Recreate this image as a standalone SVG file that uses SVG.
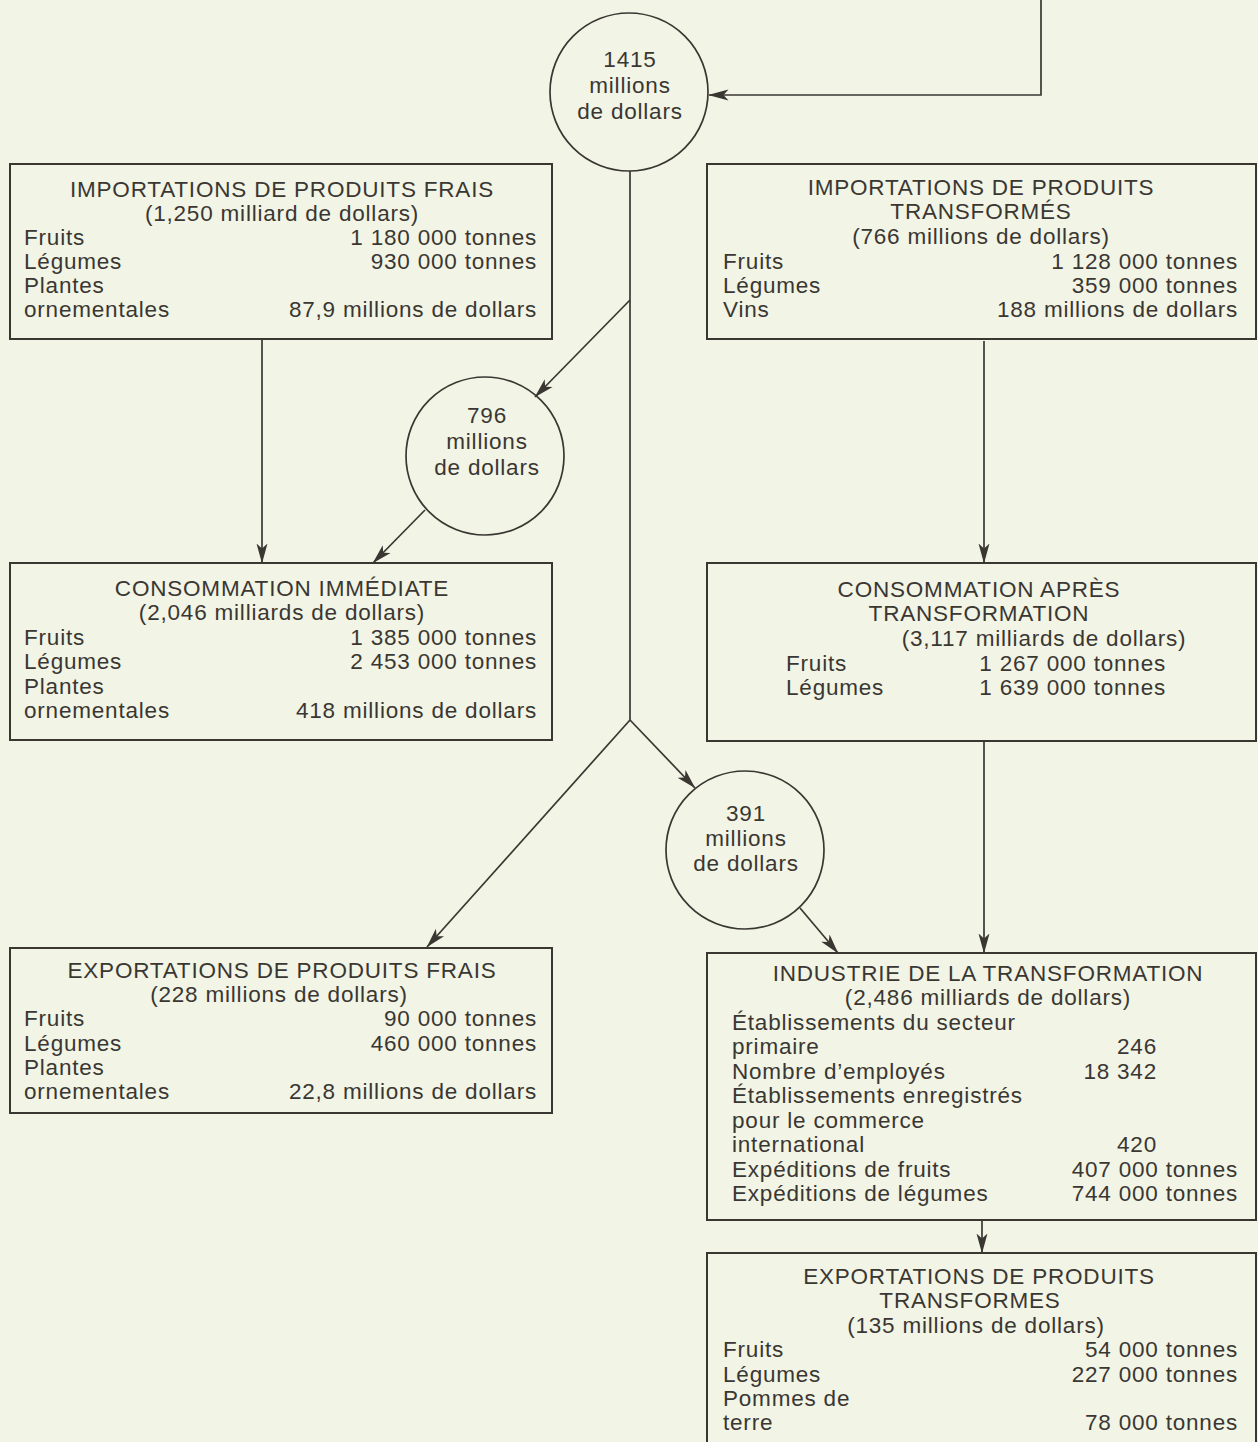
<svg xmlns="http://www.w3.org/2000/svg" width="1258" height="1442" viewBox="0 0 1258 1442">
<defs>
<style>
.bg{fill:#f2f4e5}
.box{fill:none;stroke:#3a3733;stroke-width:2}
.circ{fill:none;stroke:#3a3733;stroke-width:1.7}
.ln{fill:none;stroke:#3a3733;stroke-width:1.7}
.t{font-family:"Liberation Sans",Arial,Helvetica,sans-serif;font-size:22.5px;fill:#3a3733;letter-spacing:0.8px}
.m{text-anchor:middle}
.e{text-anchor:end}
</style>
<marker id="ah" markerWidth="20" markerHeight="14" refX="19.5" refY="7" orient="auto" markerUnits="userSpaceOnUse">
<path d="M0,1.5 L20,7 L0,12.5 L5,7 Z" fill="#3a3733"/>
</marker>
</defs>
<rect class="bg" x="0" y="0" width="1258" height="1442"/>

<g id="connectors">
<polyline class="ln" points="1041,0 1041,95 709,95" marker-end="url(#ah)"/>
<line class="ln" x1="630" y1="171" x2="630" y2="720"/>
<line class="ln" x1="630" y1="300" x2="535" y2="397" marker-end="url(#ah)"/>
<line class="ln" x1="425" y1="510" x2="373" y2="563" marker-end="url(#ah)"/>
<line class="ln" x1="262" y1="340" x2="262" y2="563" marker-end="url(#ah)"/>
<line class="ln" x1="630" y1="720" x2="427" y2="947" marker-end="url(#ah)"/>
<line class="ln" x1="630" y1="720" x2="695" y2="788" marker-end="url(#ah)"/>
<line class="ln" x1="800" y1="908" x2="838" y2="953" marker-end="url(#ah)"/>
<line class="ln" x1="984" y1="341" x2="984" y2="563" marker-end="url(#ah)"/>
<line class="ln" x1="984" y1="742" x2="984" y2="953" marker-end="url(#ah)"/>
<line class="ln" x1="982" y1="1221" x2="982" y2="1253" marker-end="url(#ah)"/>
</g>

<g id="c1415">
<circle class="circ" cx="629" cy="92" r="79"/>
<text class="t m" x="630" y="67">1415</text>
<text class="t m" x="630" y="93">millions</text>
<text class="t m" x="630" y="119">de dollars</text>
</g>

<g id="c796">
<circle class="circ" cx="485" cy="456" r="79"/>
<text class="t m" x="487" y="423">796</text>
<text class="t m" x="487" y="449">millions</text>
<text class="t m" x="487" y="475">de dollars</text>
</g>

<g id="c391">
<circle class="circ" cx="745" cy="850" r="79"/>
<text class="t m" x="746" y="821">391</text>
<text class="t m" x="746" y="846">millions</text>
<text class="t m" x="746" y="871">de dollars</text>
</g>

<g id="imp-frais">
<rect class="box" x="10" y="164" width="542" height="175"/>
<text class="t m" x="282" y="197">IMPORTATIONS DE PRODUITS FRAIS</text>
<text class="t m" x="282" y="221">(1,250 milliard de dollars)</text>
<text class="t" x="24" y="245">Fruits</text>
<text class="t e" x="537" y="245">1 180 000 tonnes</text>
<text class="t" x="24" y="269">Légumes</text>
<text class="t e" x="537" y="269">930 000 tonnes</text>
<text class="t" x="24" y="293">Plantes</text>
<text class="t" x="24" y="317">ornementales</text>
<text class="t e" x="537" y="317">87,9 millions de dollars</text>
</g>

<g id="imp-transf">
<rect class="box" x="707" y="164" width="549" height="175"/>
<text class="t m" x="981" y="195">IMPORTATIONS DE PRODUITS</text>
<text class="t m" x="981" y="219">TRANSFORMÉS</text>
<text class="t m" x="981" y="244">(766 millions de dollars)</text>
<text class="t" x="723" y="269">Fruits</text>
<text class="t e" x="1238" y="269">1 128 000 tonnes</text>
<text class="t" x="723" y="293">Légumes</text>
<text class="t e" x="1238" y="293">359 000 tonnes</text>
<text class="t" x="723" y="317">Vins</text>
<text class="t e" x="1238" y="317">188 millions de dollars</text>
</g>

<g id="conso-imm">
<rect class="box" x="10" y="563" width="542" height="177"/>
<text class="t m" x="282" y="596">CONSOMMATION IMMÉDIATE</text>
<text class="t m" x="282" y="620">(2,046 milliards de dollars)</text>
<text class="t" x="24" y="645">Fruits</text>
<text class="t e" x="537" y="645">1 385 000 tonnes</text>
<text class="t" x="24" y="669">Légumes</text>
<text class="t e" x="537" y="669">2 453 000 tonnes</text>
<text class="t" x="24" y="694">Plantes</text>
<text class="t" x="24" y="718">ornementales</text>
<text class="t e" x="537" y="718">418 millions de dollars</text>
</g>

<g id="conso-transf">
<rect class="box" x="707" y="563" width="549" height="178"/>
<text class="t m" x="979" y="597">CONSOMMATION APRÈS</text>
<text class="t m" x="979" y="621">TRANSFORMATION</text>
<text class="t m" x="1044" y="646">(3,117 milliards de dollars)</text>
<text class="t" x="786" y="671">Fruits</text>
<text class="t e" x="1166" y="671">1 267 000 tonnes</text>
<text class="t" x="786" y="695">Légumes</text>
<text class="t e" x="1166" y="695">1 639 000 tonnes</text>
</g>

<g id="exp-frais">
<rect class="box" x="10" y="948" width="542" height="165"/>
<text class="t m" x="282" y="978">EXPORTATIONS DE PRODUITS FRAIS</text>
<text class="t m" x="279" y="1002">(228 millions de dollars)</text>
<text class="t" x="24" y="1026">Fruits</text>
<text class="t e" x="537" y="1026">90 000 tonnes</text>
<text class="t" x="24" y="1051">Légumes</text>
<text class="t e" x="537" y="1051">460 000 tonnes</text>
<text class="t" x="24" y="1075">Plantes</text>
<text class="t" x="24" y="1099">ornementales</text>
<text class="t e" x="537" y="1099">22,8 millions de dollars</text>
</g>

<g id="industrie">
<rect class="box" x="707" y="953" width="549" height="267"/>
<text class="t m" x="988" y="981">INDUSTRIE DE LA TRANSFORMATION</text>
<text class="t m" x="988" y="1005">(2,486 milliards de dollars)</text>
<text class="t" x="732" y="1030">Établissements du secteur</text>
<text class="t" x="732" y="1054">primaire</text>
<text class="t e" x="1157" y="1054">246</text>
<text class="t" x="732" y="1079">Nombre d’employés</text>
<text class="t e" x="1157" y="1079">18 342</text>
<text class="t" x="732" y="1103">Établissements enregistrés</text>
<text class="t" x="732" y="1128">pour le commerce</text>
<text class="t" x="732" y="1152">international</text>
<text class="t e" x="1157" y="1152">420</text>
<text class="t" x="732" y="1177">Expéditions de fruits</text>
<text class="t e" x="1238" y="1177">407 000 tonnes</text>
<text class="t" x="732" y="1201">Expéditions de légumes</text>
<text class="t e" x="1238" y="1201">744 000 tonnes</text>
</g>

<g id="exp-transf">
<rect class="box" x="707" y="1253" width="549" height="200"/>
<text class="t m" x="979" y="1284">EXPORTATIONS DE PRODUITS</text>
<text class="t m" x="970" y="1308">TRANSFORMES</text>
<text class="t m" x="976" y="1333">(135 millions de dollars)</text>
<text class="t" x="723" y="1357">Fruits</text>
<text class="t e" x="1238" y="1357">54 000 tonnes</text>
<text class="t" x="723" y="1382">Légumes</text>
<text class="t e" x="1238" y="1382">227 000 tonnes</text>
<text class="t" x="723" y="1406">Pommes de</text>
<text class="t" x="723" y="1430">terre</text>
<text class="t e" x="1238" y="1430">78 000 tonnes</text>
</g>
</svg>
